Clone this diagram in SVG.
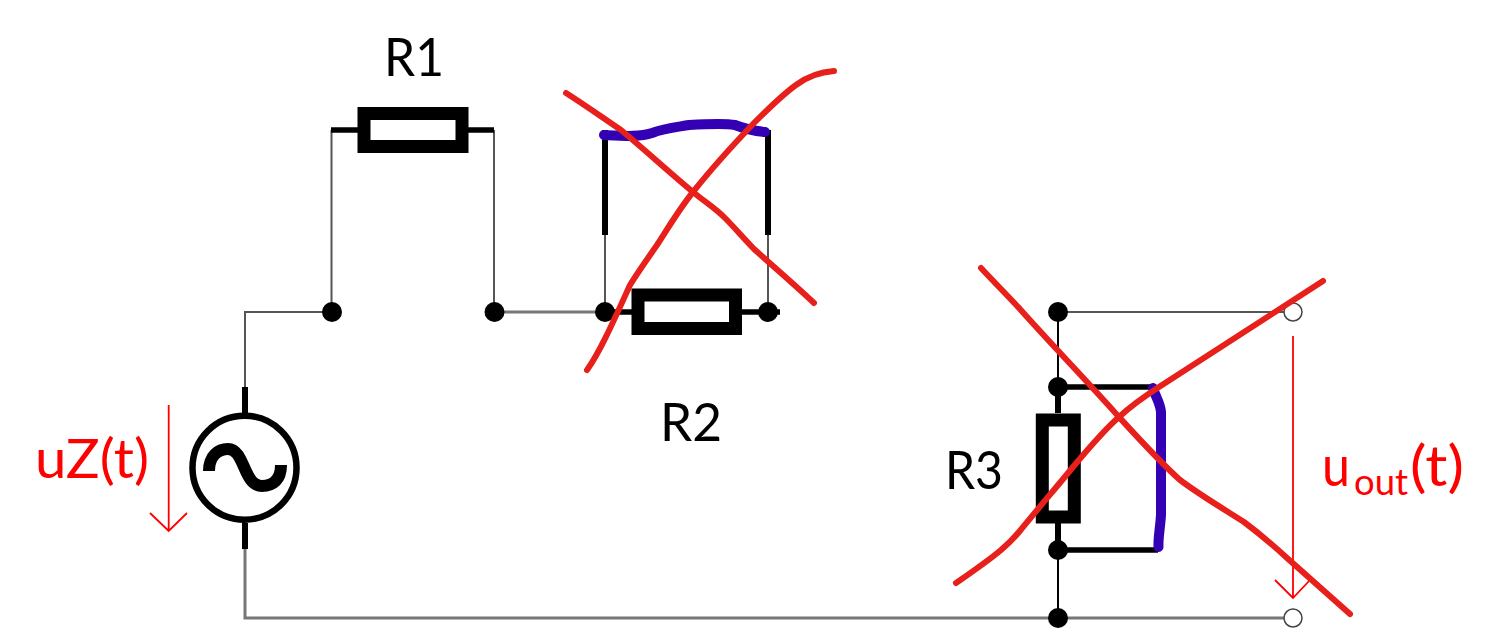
<svg xmlns="http://www.w3.org/2000/svg" width="1498" height="629" viewBox="0 0 1498 629">
<style>
.w{fill:none;stroke:#555;stroke-width:2}
.wl{fill:none;stroke:#777;stroke-width:3}
.k{fill:none;stroke:#000;stroke-width:2}
.t{fill:none;stroke:#000;stroke-width:5.5}
.tv{fill:none;stroke:#000;stroke-width:6}
.res{fill:#fff;stroke:#000;stroke-width:13}
.dot{fill:#000}
.open{fill:#fff;stroke:#444;stroke-width:1.5}
.blue{fill:none;stroke:#3300b4;stroke-width:10;stroke-linecap:round;stroke-linejoin:round}
.cross{fill:none;stroke:#e8201c;stroke-width:6;stroke-linecap:round;stroke-linejoin:round}
.arr{fill:none;stroke:#f00;stroke-width:1.8}
text{font-family:"Lato","Open Sans",sans-serif;font-size:53px}
.lb{fill:#000}
.lr{fill:#f00}
</style>
<rect width="1498" height="629" fill="#fff"/>
<g id="connectors">
<path class="w" d="M245 387V312H332"/>
<path class="wl" d="M245 549V618H1293"/>
<path class="w" d="M331.500 312V130M494 130V312"/>
<path class="wl" d="M494 312H605"/>
<path class="w" d="M605 312V235M768 235V312"/>
<path class="tv" d="M605 130V235M768 130V235"/>
<path class="t" d="M605 312H780"/>
<path class="w" d="M1058 312H1293"/>
<path class="k" d="M1058 312V387M1058 550V618"/>
<path class="t" d="M1058 387H1155M1058 550H1158"/>
<path class="tv" d="M1058 387V413M1058 523V550"/>
</g>
<g id="source">
<path class="tv" d="M245 387V413M245 523V549"/>
<circle cx="244.500" cy="467.700" r="52" fill="#fff" stroke="#000" stroke-width="6.500"/>
<path d="M209 471C209 456 218 449 228 449C245 449 243 486 262 486C273 486 281 480 281 465" fill="none" stroke="#000" stroke-width="12"/>
</g>
<g id="R1">
<path class="t" d="M331 130H494"/>
<rect class="res" x="364" y="113.500" width="98" height="33"/>
<text class="lb" x="384" y="75.500" textLength="60" lengthAdjust="spacingAndGlyphs">R1</text>
</g>
<g id="R2">
<rect class="res" x="638" y="295" width="97.500" height="33.500"/>
<text class="lb" x="660" y="441" textLength="62" lengthAdjust="spacingAndGlyphs">R2</text>
</g>
<g id="R3">
<rect class="res" x="1042.300" y="420" width="32" height="97"/>
<text class="lb" x="945" y="489" textLength="58" lengthAdjust="spacingAndGlyphs">R3</text>
</g>
<g id="nodes">
<circle class="dot" cx="332" cy="312" r="10"/>
<circle class="dot" cx="494.500" cy="312" r="10"/>
<circle class="dot" cx="605" cy="312" r="10"/>
<circle class="dot" cx="768" cy="312" r="10"/>
<circle class="dot" cx="1058" cy="312" r="10"/>
<circle class="dot" cx="1058" cy="387" r="10"/>
<circle class="dot" cx="1058" cy="550" r="10"/>
<circle class="dot" cx="1058" cy="618" r="10"/>
<circle class="open" cx="1293" cy="312" r="9"/>
<circle class="open" cx="1293" cy="618" r="9"/>
</g>
<g id="bridges">
<path class="blue" d="M604 135C625 136 640 137 652 133C665 128 678 127 689 125C705 124 725 123 735 125C745 129 755 131 765 132"/>
<path class="blue" d="M1153 388C1155 396 1160 402 1161 412V515C1160 530 1158 538 1158.500 547"/>
</g>
<g id="voltages">
<path class="arr" d="M168.700 405V531M150 513L168.700 531L187 513"/>
<text class="lr" x="35" y="478" style="font-size:54px" textLength="114" lengthAdjust="spacingAndGlyphs">uZ(t)</text>
<path class="arr" d="M1293 336V598M1275 580L1293 598L1310 580"/>
<text class="lr" x="1322" y="486" style="font-size:56px" textLength="28" lengthAdjust="spacingAndGlyphs">u</text>
<text class="lr" x="1354" y="495" style="font-size:36px" textLength="54" lengthAdjust="spacingAndGlyphs">out</text>
<text class="lr" x="1410" y="486" style="font-size:56px" textLength="54" lengthAdjust="spacingAndGlyphs">(t)</text>
</g>
<g id="cross-outs">
<path class="cross" d="M566 93C585 105 603 118 621 130C645 150 670 173 693 192C705 202 715 208 725 218C735 228 745 240 754 249C775 268 795 285 814 303"/>
<path class="cross" d="M587 370C600 352 615 318 630 285C638 272 648 258 657 245C668 228 680 208 693 192C712 168 733 145 754 123C768 109 782 95 796 85C808 76 820 72 834 71"/>
<path class="cross" d="M981 268C994 282 1007 295 1019 308C1052 345 1086 380 1119 417C1140 440 1160 462 1180 480C1200 495 1222 508 1244 522C1260 534 1274 546 1287 558L1350 614"/>
<path class="cross" d="M956 583C972 572 988 561 1001 550C1008 544 1014 538 1019 532C1036 511 1055 489 1073 467C1088 449 1103 431 1119 417C1132 405 1145 396 1159 387L1323 281"/>
</g>
</svg>
